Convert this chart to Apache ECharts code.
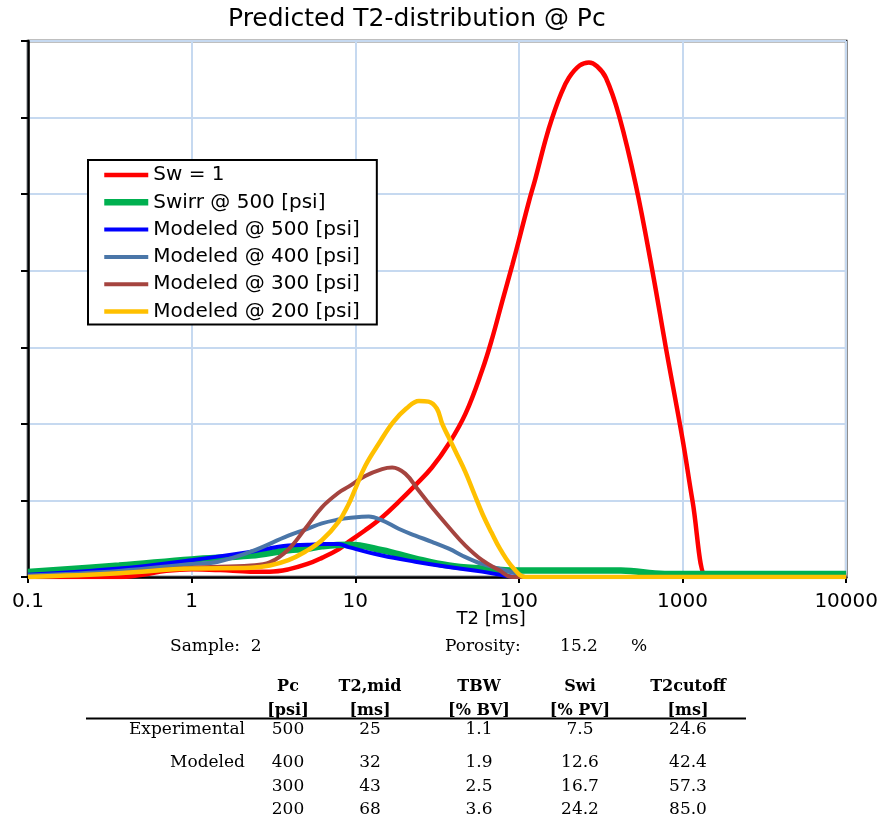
<!DOCTYPE html>
<html>
<head>
<meta charset="utf-8">
<script src="https://cdn.jsdelivr.net/npm/echarts@6/dist/echarts.min.js"></script>
<style>
html,body{margin:0;padding:0;background:#fff;}
#chart{width:881px;height:819px;}
</style>
</head>
<body>
<div id="chart"></div>
<script>
// ---- Data ----
const titleText = 'Predicted T2-distribution @ Pc';
const xAxisName = 'T2 [ms]';
const seriesNames = ['Sw = 1', 'Swirr @ 500 [psi]', 'Modeled @ 500 [psi]', 'Modeled @ 400 [psi]', 'Modeled @ 300 [psi]', 'Modeled @ 200 [psi]'];

const t2Sw1 = [0.1, 0.35, 0.5, 0.7, 1, 1.5, 2.3, 3, 3.9, 5.1, 6.25, 7.9, 9.1, 11.5, 14.6, 18.4, 23.3, 29.4, 37.3, 47.1, 59.6, 68.7, 79.1, 91, 100, 115, 126, 145, 160, 180, 202, 235, 268, 300, 340, 410, 518, 655, 790, 1000, 1151, 1390, 1500, 3000, 10000];
const valSw1 = [0, 0, 0.03, 0.08, 0.10, 0.09, 0.07, 0.07, 0.10, 0.17, 0.25, 0.36, 0.46, 0.61, 0.78, 0.98, 1.20, 1.43, 1.74, 2.13, 2.70, 3.12, 3.60, 4.07, 4.40, 4.90, 5.20, 5.70, 6.00, 6.30, 6.52, 6.68, 6.72, 6.67, 6.52, 6.02, 5.12, 3.99, 3.0, 1.8, 0.99, 0.02, 0.02, 0.02, 0.02];

const t2Swirr = [0.1, 0.36, 1, 2.3, 3.9, 5.1, 6.25, 9.1, 14.6, 23.3, 37.3, 59.6, 98, 200, 420, 780, 1500, 10000];
const valSwirr = [0.065, 0.15, 0.23, 0.28, 0.35, 0.37, 0.40, 0.42, 0.35, 0.24, 0.15, 0.11, 0.085, 0.085, 0.085, 0.04, 0.04, 0.04];

const t2M500 = [0.1, 0.36, 1, 2.3, 3.9, 5.1, 6.25, 7.9, 9.1, 14.6, 23.3, 37.3, 59.6, 87, 100, 10000];
const valM500 = [0.03, 0.11, 0.22, 0.33, 0.41, 0.42, 0.43, 0.43, 0.39, 0.28, 0.20, 0.13, 0.07, 0.01, 0, 0];

const t2M400 = [0.1, 0.36, 1, 1.45, 2.3, 3.9, 5.1, 6.25, 7.9, 9.1, 12.1, 14.6, 18.4, 23.3, 29.4, 37.3, 47.1, 59.6, 75.5, 98, 110, 10000];
const valM400 = [0.02, 0.08, 0.17, 0.2, 0.33, 0.54, 0.63, 0.70, 0.75, 0.77, 0.79, 0.74, 0.63, 0.54, 0.46, 0.37, 0.26, 0.17, 0.11, 0.04, 0, 0];

const t2M300 = [0.1, 0.36, 1, 2.3, 3.0, 3.9, 4.94, 6.25, 7.9, 9.1, 11.5, 14.6, 16.8, 20.2, 24.4, 29.4, 37.3, 47.1, 59.6, 75.5, 91, 10000];
const valM300 = [0, 0.05, 0.12, 0.15, 0.19, 0.36, 0.63, 0.91, 1.10, 1.18, 1.32, 1.41, 1.43, 1.35, 1.13, 0.91, 0.65, 0.41, 0.22, 0.09, 0, 0];

const t2M200 = [0.1, 0.36, 1, 2.3, 3.0, 3.9, 4.94, 6.25, 7.9, 9.1, 10, 11.5, 14, 17, 20.5, 24.5, 28, 31.5, 34, 37.3, 41, 47.1, 53, 60, 68, 77, 93, 110, 10000];
const valM200 = [0, 0.05, 0.11, 0.12, 0.15, 0.22, 0.33, 0.48, 0.72, 0.95, 1.15, 1.45, 1.75, 2.02, 2.20, 2.30, 2.29, 2.20, 2.0, 1.82, 1.64, 1.37, 1.1, 0.82, 0.58, 0.36, 0.11, 0, 0];

// ---- Table below the chart ----
const sampleLabel = 'Sample:  2';
const porosityLabel = 'Porosity:';
const porosityValue = '15.2';
const porosityUnit = '%';
const tableHeader1 = ['Pc', 'T2,mid', 'TBW', 'Swi', 'T2cutoff'];
const tableHeader2 = ['[psi]', '[ms]', '[% BV]', '[% PV]', '[ms]'];
const tableRowLabels = ['Experimental', 'Modeled', '', ''];
const tableRows = [
  ['500', '25', '1.1', '7.5', '24.6'],
  ['400', '32', '1.9', '12.6', '42.4'],
  ['300', '43', '2.5', '16.7', '57.3'],
  ['200', '68', '3.6', '24.2', '85.0']
];

// ---- Build chart ----
const pairs = (xs, ys) => xs.map((x, i) => [x, ys[i]]);
const seriesData = [
  pairs(t2Sw1, valSw1), pairs(t2Swirr, valSwirr), pairs(t2M500, valM500),
  pairs(t2M400, valM400), pairs(t2M300, valM300), pairs(t2M200, valM200)
];
const colors = ['#ff0000', '#00b050', '#0000ff', '#4a76a8', '#a5443f', '#ffc000'];
const widths = [4.5, 6.5, 4, 4, 4, 4.5];

const serifFont = 'DejaVu Serif';
const colX = [288, 370, 479, 580, 688];
const rowY = [730, 763, 787, 810];
const graphics = [];
function txt(x, y, text, align, bold) {
  graphics.push({
    type: 'text', x: x, y: y,
    style: { text: text, fill: '#000', font: (bold ? 'bold 16px "' : '17px "') + serifFont + '"', textAlign: align, textVerticalAlign: 'middle' }
  });
}
txt(170, 647, sampleLabel, 'left');
txt(445, 647, porosityLabel, 'left');
txt(579, 647, porosityValue, 'center');
txt(639, 647, porosityUnit, 'center');
tableHeader1.forEach((h, i) => txt(colX[i], 687, h, 'center', true));
tableHeader2.forEach((h, i) => txt(colX[i], 711, h, 'center', true));
graphics.push({ type: 'line', shape: { x1: 86, y1: 718.5, x2: 746, y2: 718.5 }, style: { stroke: '#000', lineWidth: 2 } });
tableRowLabels.forEach((l, r) => { if (l) txt(245, rowY[r], l, 'right'); });
tableRows.forEach((row, r) => row.forEach((v, i) => txt(colX[i], rowY[r], v, 'center')));

const chart = echarts.init(document.getElementById('chart'), null, { renderer: 'canvas' });
chart.setOption({
  animation: false,
  backgroundColor: '#fff',
  title: {
    text: titleText, left: 228, top: 7, padding: 0,
    textStyle: { fontFamily: 'DejaVu Sans', fontSize: 25, fontWeight: 'normal', color: '#000' }
  },
  legend: {
    orient: 'vertical', left: 88, top: 160,
    itemWidth: 44, itemHeight: 14, itemGap: 7.3,
    padding: [5, 17, 3, 13],
    borderColor: '#000', borderWidth: 2, backgroundColor: '#fff',
    textStyle: { fontFamily: 'DejaVu Sans', fontSize: 20, color: '#000' },
    itemStyle: { color: 'rgba(0,0,0,0)', borderColor: 'rgba(0,0,0,0)', borderWidth: 0 },
    lineStyle: { width: 'inherit' },
    data: seriesNames
  },
  grid: { left: 28, right: 33, top: 41, bottom: 242, show: true, borderColor: '#000', borderWidth: 2.5, backgroundColor: '#fff' },
  xAxis: {
    type: 'log', logBase: 10, min: 0.1, max: 10000,
    name: xAxisName, nameLocation: 'middle', nameGap: 33, nameMoveOverlap: false,
    nameTextStyle: { fontFamily: 'DejaVu Sans', fontSize: 18, color: '#000', padding: [0, 0, 0, 108] },
    axisLine: { lineStyle: { color: '#000', width: 2.5 } },
    axisTick: { show: true, length: 6, lineStyle: { color: '#000', width: 2 } },
    axisLabel: { fontFamily: 'DejaVu Sans', fontSize: 20, color: '#000', margin: 15, formatter: v => String(Number(v.toPrecision(6))) },
    splitLine: { show: true, lineStyle: { color: '#c6d9f0', width: 2 } },
    minorTick: { show: false }
  },
  yAxis: {
    type: 'value', min: 0, max: 7, interval: 1,
    axisLine: { show: true, lineStyle: { color: '#000', width: 2.5 } },
    axisTick: { show: true, inside: false, length: 7, lineStyle: { color: '#000', width: 2 } },
    axisLabel: { show: false },
    splitLine: { show: true, lineStyle: { color: '#c6d9f0', width: 2 } }
  },
  series: seriesNames.map((name, i) => ({
    name: name, type: 'line', data: seriesData[i],
    smooth: 0.4, symbol: 'none', showSymbol: false,
    lineStyle: { color: colors[i], width: widths[i] },
    itemStyle: { color: colors[i] },
    z: 2 + i
  })),
  graphic: graphics
});
</script>
</body>
</html>
